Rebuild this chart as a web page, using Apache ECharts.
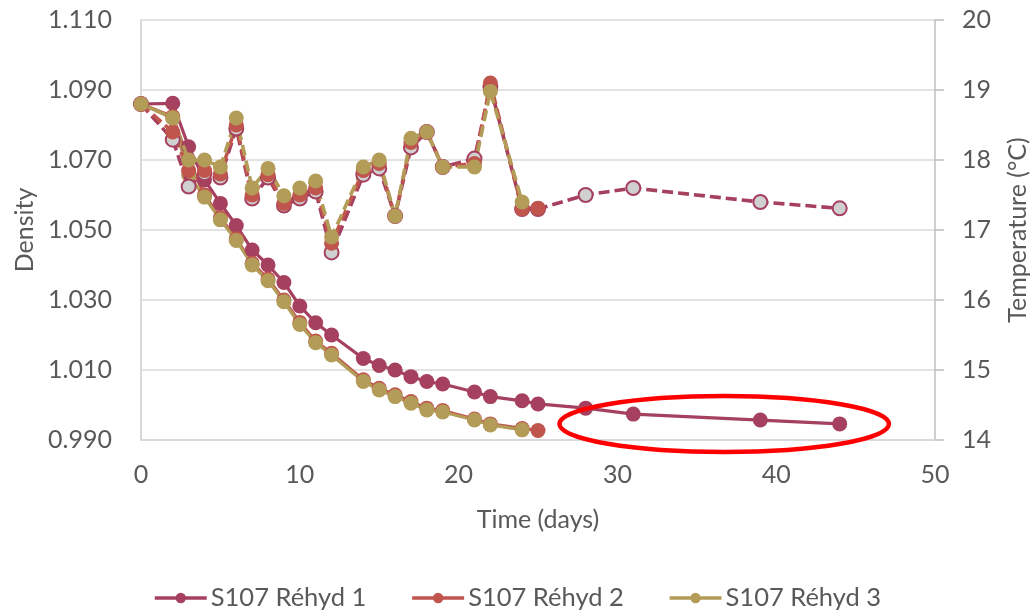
<!DOCTYPE html>
<html>
<head>
<meta charset="utf-8">
<script src="https://cdn.jsdelivr.net/npm/echarts@6/dist/echarts.min.js"></script>
<style>
html,body{margin:0;padding:0;background:#fff;}
#c{width:1032px;height:610px;}
</style>
</head>
<body>
<div id="c"></div>
<script>
const names = ['S107 Réhyd 1', 'S107 Réhyd 2', 'S107 Réhyd 3'];
const days1 = [0,2,3,4,5,6,7,8,9,10,11,12,14,15,16,17,18,19,21,22,24,25,28,31,39,44];
const days2 = [0,2,3,4,5,6,7,8,9,10,11,12,14,15,16,17,18,19,21,22,24,25];
const days3 = [0,2,3,4,5,6,7,8,9,10,11,12,14,15,16,17,18,19,21,22,24];
const dens1 = [1.0860,1.0862,1.0738,1.0643,1.0576,1.0513,1.0443,1.0400,1.0350,1.0283,1.0235,1.0200,1.0133,1.0113,1.0100,1.0081,1.0067,1.0060,1.0037,1.0024,1.0012,1.0003,0.9991,0.9974,0.9957,0.9946];
const dens2 = [1.0860,1.0824,1.0700,1.0600,1.0535,1.0475,1.0405,1.0360,1.0300,1.0236,1.0183,1.0148,1.0072,1.0048,1.0029,1.0010,0.9991,0.9984,0.9960,0.9946,0.9933,0.9927];
const dens3 = [1.0860,1.0820,1.0657,1.0594,1.0529,1.0470,1.0400,1.0355,1.0295,1.0230,1.0178,1.0143,1.0067,1.0043,1.0024,1.0005,0.9986,0.9980,0.9957,0.9943,0.9929];
const temp1 = [18.8,18.29,17.62,17.81,17.75,18.45,17.45,17.75,17.35,17.45,17.55,16.68,17.79,17.88,17.2,18.18,18.4,17.9,18.02,19.05,17.3,17.3,17.5,17.6,17.4,17.31];
const temp2 = [18.8,18.4,17.85,17.85,17.8,18.5,17.5,17.79,17.38,17.5,17.6,16.81,17.85,17.95,17.2,18.25,18.4,17.9,17.95,19.1,17.3,17.31];
const temp3 = [18.8,18.6,18.0,18.0,17.9,18.6,17.6,17.88,17.49,17.6,17.7,16.9,17.9,18.0,17.2,18.31,18.4,17.9,17.9,18.98,17.4];
const xTicks = {min: 0, max: 50, interval: 10};
const densTicks = {min: 0.99, max: 1.11, interval: 0.02};
const tempTicks = {min: 14, max: 20, interval: 1};
const highlight = {x0: 26.35, x1: 47.1, y0: 0.98657, y1: 1.00257};

const colors = ['#A6405F', '#C0554E', '#B39C58'];
const textColor = '#595959';
const FONT = 'Lato';
const pairs = (xs, ys) => xs.map((x, i) => [x, ys[i]]);

const densSeries = [[days1, dens1], [days2, dens2], [days3, dens3]].map((d, i) => ({
  name: names[i], type: 'line', xAxisIndex: 0, yAxisIndex: 0,
  data: pairs(d[0], d[1]),
  symbol: 'circle', symbolSize: 15,
  lineStyle: {color: colors[i], width: 3.2},
  itemStyle: {color: colors[i], borderWidth: 0},
  z: 2
}));
const tempSeries = [[days1, temp1], [days2, temp2], [days3, temp3]].map((d, i) => ({
  name: names[i] + ' T', type: 'line', xAxisIndex: 0, yAxisIndex: 1,
  data: pairs(d[0], d[1]),
  symbol: 'circle', symbolSize: i === 0 ? 14 : 15,
  lineStyle: {color: colors[i], width: 3.6, type: [11, 5]},
  itemStyle: i === 0 ? {color: '#D0D0D0', borderColor: colors[0], borderWidth: 2}
                     : {color: colors[i], borderWidth: 0},
  z: 3
}));

const chart = echarts.init(document.getElementById('c'), null, {renderer: 'canvas'});
chart.setOption({
  animation: false,
  backgroundColor: '#fff',
  textStyle: {fontFamily: FONT},
  grid: {left: 141, right: 97, top: 20, bottom: 170, containLabel: false, outerBoundsMode: 'none'},
  legend: {
    data: names, left: 148, top: 580, itemWidth: 52, itemHeight: 13, itemGap: 44,
    lineStyle: {width: 3.5},
    textStyle: {fontFamily: FONT, fontSize: 25.5, color: textColor, padding: [0,0,0,-1]}
  },
  xAxis: {
    type: 'value', min: xTicks.min, max: xTicks.max, interval: xTicks.interval,
    name: 'Time (days)', nameLocation: 'middle', nameGap: 67,
    nameTextStyle: {fontFamily: FONT, fontSize: 25, color: textColor},
    axisLine: {show: true, lineStyle: {color: '#D9D9D9', width: 2}},
    axisTick: {show: false},
    axisLabel: {fontFamily: FONT, fontSize: 25, color: textColor, margin: 22},
    splitLine: {show: false}
  },
  yAxis: [{
    type: 'value', min: densTicks.min, max: densTicks.max, interval: densTicks.interval,
    position: 'left',
    name: 'Density', nameLocation: 'middle', nameGap: 103, nameRotate: 90,
    nameTextStyle: {fontFamily: FONT, fontSize: 25, color: textColor},
    axisLine: {show: true, lineStyle: {color: '#D9D9D9', width: 2}},
    axisTick: {show: false},
    axisLabel: {fontFamily: FONT, fontSize: 25, color: textColor, margin: 29,
      formatter: v => v.toFixed(3)},
    splitLine: {show: true, lineStyle: {color: '#D9D9D9', width: 1.5}}
  }, {
    type: 'value', min: tempTicks.min, max: tempTicks.max, interval: tempTicks.interval,
    position: 'right',
    name: 'Temperature (°C)', nameLocation: 'middle', nameGap: 70, nameRotate: 90,
    nameTextStyle: {fontFamily: FONT, fontSize: 25, color: textColor},
    axisLine: {show: true, lineStyle: {color: '#BFBFBF', width: 1.5}},
    axisTick: {show: true, length: 9, lineStyle: {color: '#BFBFBF', width: 1.5}},
    axisLabel: {fontFamily: FONT, fontSize: 25, color: textColor, margin: 27,
      formatter: v => String(Math.round(v))},
    splitLine: {show: false}
  }],
  series: densSeries.concat(tempSeries)
});

function drawHighlight() {
  const p0 = chart.convertToPixel({xAxisIndex: 0, yAxisIndex: 0}, [highlight.x0, highlight.y1]);
  const p1 = chart.convertToPixel({xAxisIndex: 0, yAxisIndex: 0}, [highlight.x1, highlight.y0]);
  chart.setOption({
    graphic: [{
      type: 'ellipse', z: 100,
      shape: {cx: (p0[0] + p1[0]) / 2, cy: (p0[1] + p1[1]) / 2,
              rx: Math.abs(p1[0] - p0[0]) / 2, ry: Math.abs(p1[1] - p0[1]) / 2},
      style: {fill: 'none', stroke: '#FF0000', lineWidth: 4.5}
    }]
  });
}
drawHighlight();
</script>
</body>
</html>
